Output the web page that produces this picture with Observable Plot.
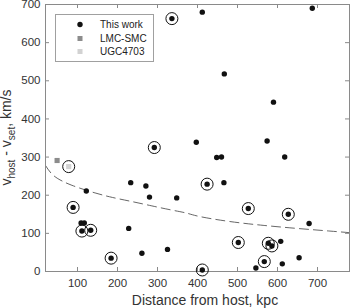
<!DOCTYPE html>
<html>
<head>
<meta charset="utf-8">
<script src="https://cdn.jsdelivr.net/npm/d3@7"></script>
<script src="https://cdn.jsdelivr.net/npm/@observablehq/plot@0.6"></script>
<style>
  html, body { margin: 0; padding: 0; background: #fff; }
  #chart { position: relative; width: 350px; height: 308px; }
</style>
</head>
<body>
<div id="chart"></div>
<script>
// "This work" points
const workX = [336, 412, 687, 467, 590, 397, 574, 292, 448, 460, 618, 424, 466, 233, 271, 280, 348, 122, 89, 109, 117, 111, 133, 228, 184, 261, 325, 527, 627, 679, 502, 577, 586, 608, 567, 546, 612, 654, 412];
const workY = [663, 680, 690, 518, 444, 339, 342, 325, 299, 300, 300, 229, 233, 233, 224, 195, 193, 211, 168, 127, 127, 106, 108, 113, 35, 48, 58, 165, 150, 126, 76, 74, 67, 79, 26, 9, 20, 36, 4];
const workCircled = [1, 0, 0, 0, 0, 0, 0, 1, 0, 0, 0, 1, 0, 0, 0, 0, 0, 0, 1, 0, 0, 1, 1, 0, 1, 0, 0, 1, 1, 0, 1, 1, 1, 0, 1, 0, 0, 0, 1];
// Comparison objects
const lmcX = [49], lmcY = [291];
const ugcX = [78], ugcY = [275];
// Dashed curve
const curveX = [20, 42, 86, 144, 188, 233, 286, 336, 373, 406, 481, 564, 648, 731, 778];
const curveY = [278, 250, 226, 206, 194, 184, 172, 161, 153, 144, 131, 121, 113, 106, 102];
// Ticks
const xTicks = [100, 200, 300, 400, 500, 600, 700];
const yTicks = [0, 100, 200, 300, 400, 500, 600, 700];
const legendLabels = ["This work", "LMC-SMC", "UGC4703"];

const work = workX.map((x, i) => ({x, y: workY[i], c: workCircled[i]}));
const lmc = lmcX.map((x, i) => ({x, y: lmcY[i]}));
const ugc = ugcX.map((x, i) => ({x, y: ugcY[i]}));
const curve = curveX.map((x, i) => ({x, y: curveY[i]}));

const W = 350, H = 308, mL = 45, mR = 1, mT = 4, mB = 37;
const pw = W - mL - mR, ph = H - mT - mB;
const frameColor = "#8a8a8a";

const plot = Plot.plot({
  width: W, height: H,
  marginLeft: mL, marginRight: mR, marginTop: mT, marginBottom: mB,
  x: {domain: [20, 780]},
  y: {domain: [0, 700]},
  style: {fontFamily: "'Liberation Sans', Arial, sans-serif", fontSize: "11.5px", color: "#333", background: "#fff"},
  marks: [
    Plot.line(curve, {x: "x", y: "y", curve: "natural", stroke: "#555", strokeWidth: 0.9, strokeDasharray: "9,5"}),
    Plot.tickX(xTicks, {x: d => d, stroke: frameColor, insetTop: ph - 4}),
    Plot.tickX(xTicks, {x: d => d, stroke: frameColor, insetBottom: ph - 4}),
    Plot.tickY(yTicks, {y: d => d, stroke: frameColor, insetRight: pw - 4}),
    Plot.tickY(yTicks, {y: d => d, stroke: frameColor, insetLeft: pw - 4}),
    Plot.frame({stroke: frameColor}),
    Plot.axisX({ticks: xTicks, tickSize: 0, tickPadding: 7, label: null}),
    Plot.axisY({ticks: yTicks, tickSize: 0, tickPadding: 5, label: null}),
    Plot.dot(lmc, {x: "x", y: "y", symbol: "square", r: 2.9, fill: "#8c8c8c", stroke: "none"}),
    Plot.dot(ugc, {x: "x", y: "y", symbol: "square", r: 2.9, fill: "#d2d2d2", stroke: "none"}),
    Plot.dot(ugc, {x: "x", y: "y", r: 6, fill: "none", stroke: "#111", strokeWidth: 1}),
    Plot.dot(work, {x: "x", y: "y", r: 2.7, fill: "#111", stroke: "none"}),
    Plot.dot(work.filter(d => d.c), {x: "x", y: "y", r: 6, fill: "none", stroke: "#111", strokeWidth: 1})
  ]
});

document.getElementById("chart").appendChild(plot);
const svg = d3.select(plot);

// X label
svg.append("text")
  .attr("x", 205).attr("y", 305)
  .attr("text-anchor", "middle")
  .attr("font-size", 14).attr("fill", "#333")
  .text("Distance from host, kpc");

// Y label with subscripts
const yl = svg.append("text")
  .attr("transform", `translate(11,${mT + ph / 2}) rotate(-90)`)
  .attr("text-anchor", "middle")
  .attr("font-size", 14).attr("fill", "#333");
yl.append("tspan").text("v");
yl.append("tspan").attr("dy", 4).attr("font-size", 10).text("host");
yl.append("tspan").attr("dy", -4).text(" - v");
yl.append("tspan").attr("dy", 4).attr("font-size", 10).text("set");
yl.append("tspan").attr("dy", -4).text(", km/s");

// Legend
const lg = svg.append("g");
lg.append("rect").attr("x", 55.5).attr("y", 14.5).attr("width", 98).attr("height", 47)
  .attr("fill", "#fff").attr("stroke", "#a0a0a0").attr("stroke-width", 1);
const ly = [24.5, 38.5, 51.5];
lg.append("circle").attr("cx", 80).attr("cy", ly[0]).attr("r", 2.7).attr("fill", "#111");
lg.append("rect").attr("x", 77.5).attr("y", ly[1] - 2.5).attr("width", 5).attr("height", 5).attr("fill", "#8c8c8c");
lg.append("rect").attr("x", 77.5).attr("y", ly[2] - 2.5).attr("width", 5).attr("height", 5).attr("fill", "#d2d2d2");
legendLabels.forEach((t, i) => {
  lg.append("text").attr("x", 100).attr("y", ly[i]).attr("dy", "0.35em")
    .attr("text-anchor", "start")
    .attr("font-size", 10).attr("fill", "#222").text(t);
});
</script>
</body>
</html>
